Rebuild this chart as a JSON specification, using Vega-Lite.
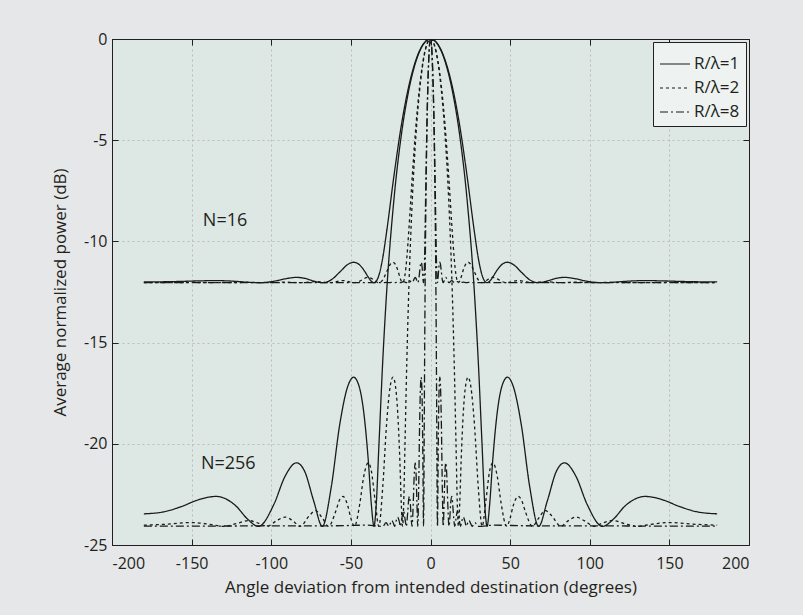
{
 "$schema": "https://vega.github.io/schema/vega-lite/v6.json",
 "width": 637, "height": 506,
 "autosize": {"type": "none"},
 "padding": {"left": 112, "top": 39, "right": 54, "bottom": 70},
 "background": "#e6e7e8",
 "config": {
  "view": {"fill": "#dde8e5", "stroke": "#231f20", "strokeWidth": 1},
  "font": "Open Sans",
  "axis": {"labelFont": "Open Sans", "labelFontSize": 16, "labelColor": "#231f20", "titleFont": "Open Sans", "titleFontSize": 17, "titleFontWeight": "normal", "titleColor": "#231f20", "tickColor": "#231f20", "tickSize": -6, "domainColor": "#231f20", "gridColor": "#b9bcbb", "gridDash": [2, 3], "gridWidth": 1, "labelExpr": "toString(datum.value)"},
  "legend": {"title": null, "orient": "top-right", "offset": 3, "padding": 6, "strokeColor": "#231f20", "fillColor": "#eef3f1", "labelFontSize": 17, "labelFont": "Open Sans", "labelColor": "#231f20", "symbolType": "stroke", "symbolSize": 900, "symbolStrokeWidth": 1.2, "rowPadding": -11, "labelOffset": 3}
 },
 "layer": [
  {
   "data": {"values": [
    {"r":"R/λ=1","a":-180,"s":-12.002,"b":-23.46},
    {"r":"R/λ=1","a":-168,"s":-11.995,"b":-23.37},
    {"r":"R/λ=1","a":-156.4,"s":-11.976,"b":-23.10},
    {"r":"R/λ=1","a":-145.5,"s":-11.951,"b":-22.76},
    {"r":"R/λ=1","a":-134.78,"s":-11.938,"b":-22.60},
    {"r":"R/λ=1","a":-122.19,"s":-11.974,"b":-23.07},
    {"r":"R/λ=1","a":-115,"s":-12.018,"b":-23.71},
    {"r":"R/λ=1","a":-108.07,"s":-12.041,"b":-24.08},
    {"r":"R/λ=1","a":-98.22,"s":-11.967,"b":-22.97},
    {"r":"R/λ=1","a":-91.48,"s":-11.852,"b":-21.63},
    {"r":"R/λ=1","a":-84.14,"s":-11.778,"b":-20.94},
    {"r":"R/λ=1","a":-79.08,"s":-11.823,"b":-21.35},
    {"r":"R/λ=1","a":-73.29,"s":-11.957,"b":-22.84},
    {"r":"R/λ=1","a":-67.93,"s":-12.041,"b":-24.08},
    {"r":"R/λ=1","a":-62.29,"s":-11.897,"b":-22.12},
    {"r":"R/λ=1","a":-57.04,"s":-11.520,"b":-19.07},
    {"r":"R/λ=1","a":-51.91,"s":-11.138,"b":-17.15},
    {"r":"R/λ=1","a":-48.29,"s":-11.029,"b":-16.71},
    {"r":"R/λ=1","a":-44.91,"s":-11.135,"b":-17.14},
    {"r":"R/λ=1","a":-41.97,"s":-11.403,"b":-18.41},
    {"r":"R/λ=1","a":-39.05,"s":-11.766,"b":-20.84},
    {"r":"R/λ=1","a":-37.12,"s":-11.971,"b":-23.02},
    {"r":"R/λ=1","a":-35.5,"s":-12.041,"b":-24.08},
    {"r":"R/λ=1","a":-34.25,"s":-11.986,"b":-23.23},
    {"r":"R/λ=1","a":-32.34,"s":-11.658,"b":-19.98},
    {"r":"R/λ=1","a":-29.98,"s":-10.808,"b":-15.90},
    {"r":"R/λ=1","a":-27.63,"s":-9.570,"b":-12.611},
    {"r":"R/λ=1","a":-22.95,"s":-6.761,"b":-7.919},
    {"r":"R/λ=1","a":-18.32,"s":-4.268,"b":-4.747},
    {"r":"R/λ=1","a":-13.71,"s":-2.356,"b":-2.556},
    {"r":"R/λ=1","a":-9.13,"s":-1.030,"b":-1.103},
    {"r":"R/λ=1","a":-4.56,"s":-0.254,"b":-0.270},
    {"r":"R/λ=1","a":0,"s":0,"b":0},
    {"r":"R/λ=1","a":4.56,"s":-0.254,"b":-0.270},
    {"r":"R/λ=1","a":9.13,"s":-1.030,"b":-1.103},
    {"r":"R/λ=1","a":13.71,"s":-2.356,"b":-2.556},
    {"r":"R/λ=1","a":18.32,"s":-4.268,"b":-4.747},
    {"r":"R/λ=1","a":22.95,"s":-6.761,"b":-7.919},
    {"r":"R/λ=1","a":27.63,"s":-9.570,"b":-12.611},
    {"r":"R/λ=1","a":29.98,"s":-10.808,"b":-15.90},
    {"r":"R/λ=1","a":32.34,"s":-11.658,"b":-19.98},
    {"r":"R/λ=1","a":34.25,"s":-11.986,"b":-23.23},
    {"r":"R/λ=1","a":35.5,"s":-12.041,"b":-24.08},
    {"r":"R/λ=1","a":37.12,"s":-11.971,"b":-23.02},
    {"r":"R/λ=1","a":39.05,"s":-11.766,"b":-20.84},
    {"r":"R/λ=1","a":41.97,"s":-11.403,"b":-18.41},
    {"r":"R/λ=1","a":44.91,"s":-11.135,"b":-17.14},
    {"r":"R/λ=1","a":48.29,"s":-11.029,"b":-16.71},
    {"r":"R/λ=1","a":51.91,"s":-11.138,"b":-17.15},
    {"r":"R/λ=1","a":57.04,"s":-11.520,"b":-19.07},
    {"r":"R/λ=1","a":62.29,"s":-11.897,"b":-22.12},
    {"r":"R/λ=1","a":67.93,"s":-12.041,"b":-24.08},
    {"r":"R/λ=1","a":73.29,"s":-11.957,"b":-22.84},
    {"r":"R/λ=1","a":79.08,"s":-11.823,"b":-21.35},
    {"r":"R/λ=1","a":84.14,"s":-11.778,"b":-20.94},
    {"r":"R/λ=1","a":91.48,"s":-11.852,"b":-21.63},
    {"r":"R/λ=1","a":98.22,"s":-11.967,"b":-22.97},
    {"r":"R/λ=1","a":108.07,"s":-12.041,"b":-24.08},
    {"r":"R/λ=1","a":115,"s":-12.018,"b":-23.71},
    {"r":"R/λ=1","a":122.19,"s":-11.974,"b":-23.07},
    {"r":"R/λ=1","a":134.78,"s":-11.938,"b":-22.60},
    {"r":"R/λ=1","a":145.5,"s":-11.951,"b":-22.76},
    {"r":"R/λ=1","a":156.4,"s":-11.976,"b":-23.10},
    {"r":"R/λ=1","a":168,"s":-11.995,"b":-23.37},
    {"r":"R/λ=1","a":180,"s":-12.002,"b":-23.46},

    {"r":"R/λ=2","a":-180,"s":-12.037,"b":-24.02},
    {"r":"R/λ=2","a":-165,"s":-12.035,"b":-23.97},
    {"r":"R/λ=2","a":-149.88,"s":-12.029,"b":-23.89},
    {"r":"R/λ=2","a":-138.46,"s":-12.035,"b":-23.98},
    {"r":"R/λ=2","a":-129.81,"s":-12.041,"b":-24.08},
    {"r":"R/λ=2","a":-121.25,"s":-12.032,"b":-23.93},
    {"r":"R/λ=2","a":-114.36,"s":-12.024,"b":-23.79},
    {"r":"R/λ=2","a":-107.75,"s":-12.032,"b":-23.93},
    {"r":"R/λ=2","a":-102.63,"s":-12.041,"b":-24.08},
    {"r":"R/λ=2","a":-96.84,"s":-12.025,"b":-23.81},
    {"r":"R/λ=2","a":-91.23,"s":-12.013,"b":-23.62},
    {"r":"R/λ=2","a":-86.37,"s":-12.025,"b":-23.81},
    {"r":"R/λ=2","a":-81.88,"s":-12.041,"b":-24.08},
    {"r":"R/λ=2","a":-76.15,"s":-12.009,"b":-23.56},
    {"r":"R/λ=2","a":-72.15,"s":-11.990,"b":-23.30},
    {"r":"R/λ=2","a":-67.70,"s":-12.017,"b":-23.70},
    {"r":"R/λ=2","a":-64.01,"s":-12.041,"b":-24.08},
    {"r":"R/λ=2","a":-59.65,"s":-11.995,"b":-23.37},
    {"r":"R/λ=2","a":-57.03,"s":-11.951,"b":-22.76},
    {"r":"R/λ=2","a":-54.97,"s":-11.938,"b":-22.60},
    {"r":"R/λ=2","a":-51.91,"s":-11.974,"b":-23.07},
    {"r":"R/λ=2","a":-49.89,"s":-12.018,"b":-23.71},
    {"r":"R/λ=2","a":-47.74,"s":-12.041,"b":-24.08},
    {"r":"R/λ=2","a":-44.42,"s":-11.967,"b":-22.97},
    {"r":"R/λ=2","a":-41.97,"s":-11.852,"b":-21.63},
    {"r":"R/λ=2","a":-39.15,"s":-11.778,"b":-20.94},
    {"r":"R/λ=2","a":-37.12,"s":-11.823,"b":-21.35},
    {"r":"R/λ=2","a":-34.73,"s":-11.957,"b":-22.84},
    {"r":"R/λ=2","a":-32.44,"s":-12.041,"b":-24.08},
    {"r":"R/λ=2","a":-29.98,"s":-11.897,"b":-22.12},
    {"r":"R/λ=2","a":-27.62,"s":-11.520,"b":-19.07},
    {"r":"R/λ=2","a":-25.28,"s":-11.138,"b":-17.15},
    {"r":"R/λ=2","a":-23.60,"s":-11.029,"b":-16.71},
    {"r":"R/λ=2","a":-22.02,"s":-11.135,"b":-17.14},
    {"r":"R/λ=2","a":-20.63,"s":-11.403,"b":-18.41},
    {"r":"R/λ=2","a":-19.24,"s":-11.766,"b":-20.84},
    {"r":"R/λ=2","a":-18.32,"s":-11.971,"b":-23.02},
    {"r":"R/λ=2","a":-17.53,"s":-12.041,"b":-24.08},
    {"r":"R/λ=2","a":-16.93,"s":-11.986,"b":-23.23},
    {"r":"R/λ=2","a":-16.01,"s":-11.658,"b":-19.98},
    {"r":"R/λ=2","a":-14.86,"s":-10.808,"b":-15.90},
    {"r":"R/λ=2","a":-13.71,"s":-9.570,"b":-12.611},
    {"r":"R/λ=2","a":-11.42,"s":-6.761,"b":-7.919},
    {"r":"R/λ=2","a":-9.13,"s":-4.268,"b":-4.747},
    {"r":"R/λ=2","a":-6.84,"s":-2.356,"b":-2.556},
    {"r":"R/λ=2","a":-4.56,"s":-1.030,"b":-1.103},
    {"r":"R/λ=2","a":-2.28,"s":-0.254,"b":-0.270},
    {"r":"R/λ=2","a":0,"s":0,"b":0},
    {"r":"R/λ=2","a":2.28,"s":-0.254,"b":-0.270},
    {"r":"R/λ=2","a":4.56,"s":-1.030,"b":-1.103},
    {"r":"R/λ=2","a":6.84,"s":-2.356,"b":-2.556},
    {"r":"R/λ=2","a":9.13,"s":-4.268,"b":-4.747},
    {"r":"R/λ=2","a":11.42,"s":-6.761,"b":-7.919},
    {"r":"R/λ=2","a":13.71,"s":-9.570,"b":-12.611},
    {"r":"R/λ=2","a":14.86,"s":-10.808,"b":-15.90},
    {"r":"R/λ=2","a":16.01,"s":-11.658,"b":-19.98},
    {"r":"R/λ=2","a":16.93,"s":-11.986,"b":-23.23},
    {"r":"R/λ=2","a":17.53,"s":-12.041,"b":-24.08},
    {"r":"R/λ=2","a":18.32,"s":-11.971,"b":-23.02},
    {"r":"R/λ=2","a":19.24,"s":-11.766,"b":-20.84},
    {"r":"R/λ=2","a":20.63,"s":-11.403,"b":-18.41},
    {"r":"R/λ=2","a":22.02,"s":-11.135,"b":-17.14},
    {"r":"R/λ=2","a":23.60,"s":-11.029,"b":-16.71},
    {"r":"R/λ=2","a":25.28,"s":-11.138,"b":-17.15},
    {"r":"R/λ=2","a":27.62,"s":-11.520,"b":-19.07},
    {"r":"R/λ=2","a":29.98,"s":-11.897,"b":-22.12},
    {"r":"R/λ=2","a":32.44,"s":-12.041,"b":-24.08},
    {"r":"R/λ=2","a":34.73,"s":-11.957,"b":-22.84},
    {"r":"R/λ=2","a":37.12,"s":-11.823,"b":-21.35},
    {"r":"R/λ=2","a":39.15,"s":-11.778,"b":-20.94},
    {"r":"R/λ=2","a":41.97,"s":-11.852,"b":-21.63},
    {"r":"R/λ=2","a":44.42,"s":-11.967,"b":-22.97},
    {"r":"R/λ=2","a":47.74,"s":-12.041,"b":-24.08},
    {"r":"R/λ=2","a":49.89,"s":-12.018,"b":-23.71},
    {"r":"R/λ=2","a":51.91,"s":-11.974,"b":-23.07},
    {"r":"R/λ=2","a":54.97,"s":-11.938,"b":-22.60},
    {"r":"R/λ=2","a":57.03,"s":-11.951,"b":-22.76},
    {"r":"R/λ=2","a":59.65,"s":-11.995,"b":-23.37},
    {"r":"R/λ=2","a":64.01,"s":-12.041,"b":-24.08},
    {"r":"R/λ=2","a":67.70,"s":-12.017,"b":-23.70},
    {"r":"R/λ=2","a":72.15,"s":-11.990,"b":-23.30},
    {"r":"R/λ=2","a":76.15,"s":-12.009,"b":-23.56},
    {"r":"R/λ=2","a":81.88,"s":-12.041,"b":-24.08},
    {"r":"R/λ=2","a":86.37,"s":-12.025,"b":-23.81},
    {"r":"R/λ=2","a":91.23,"s":-12.013,"b":-23.62},
    {"r":"R/λ=2","a":96.84,"s":-12.025,"b":-23.81},
    {"r":"R/λ=2","a":102.63,"s":-12.041,"b":-24.08},
    {"r":"R/λ=2","a":107.75,"s":-12.032,"b":-23.93},
    {"r":"R/λ=2","a":114.36,"s":-12.024,"b":-23.79},
    {"r":"R/λ=2","a":121.25,"s":-12.032,"b":-23.93},
    {"r":"R/λ=2","a":129.81,"s":-12.041,"b":-24.08},
    {"r":"R/λ=2","a":138.46,"s":-12.035,"b":-23.98},
    {"r":"R/λ=2","a":149.88,"s":-12.029,"b":-23.89},
    {"r":"R/λ=2","a":165,"s":-12.035,"b":-23.97},
    {"r":"R/λ=2","a":180,"s":-12.037,"b":-24.02},

    {"r":"R/λ=8","a":-180,"s":-12.041,"b":-24.07},
    {"r":"R/λ=8","a":-150,"s":-12.041,"b":-24.07},
    {"r":"R/λ=8","a":-120,"s":-12.041,"b":-24.06},
    {"r":"R/λ=8","a":-90,"s":-12.040,"b":-24.06},
    {"r":"R/λ=8","a":-60,"s":-12.040,"b":-24.05},
    {"r":"R/λ=8","a":-40,"s":-12.038,"b":-24.02},
    {"r":"R/λ=8","a":-29.86,"s":-12.041,"b":-24.08},
    {"r":"R/λ=8","a":-27.94,"s":-12.029,"b":-23.89},
    {"r":"R/λ=8","a":-27.04,"s":-12.035,"b":-23.98},
    {"r":"R/λ=8","a":-26.17,"s":-12.041,"b":-24.08},
    {"r":"R/λ=8","a":-25.17,"s":-12.032,"b":-23.93},
    {"r":"R/λ=8","a":-24.26,"s":-12.024,"b":-23.79},
    {"r":"R/λ=8","a":-23.30,"s":-12.032,"b":-23.93},
    {"r":"R/λ=8","a":-22.51,"s":-12.041,"b":-24.08},
    {"r":"R/λ=8","a":-21.56,"s":-12.025,"b":-23.81},
    {"r":"R/λ=8","a":-20.58,"s":-12.013,"b":-23.62},
    {"r":"R/λ=8","a":-19.70,"s":-12.025,"b":-23.81},
    {"r":"R/λ=8","a":-18.86,"s":-12.041,"b":-24.08},
    {"r":"R/λ=8","a":-17.74,"s":-12.009,"b":-23.56},
    {"r":"R/λ=8","a":-16.93,"s":-11.990,"b":-23.30},
    {"r":"R/λ=8","a":-16.01,"s":-12.017,"b":-23.70},
    {"r":"R/λ=8","a":-15.23,"s":-12.041,"b":-24.08},
    {"r":"R/λ=8","a":-14.29,"s":-11.995,"b":-23.37},
    {"r":"R/λ=8","a":-13.71,"s":-11.951,"b":-22.76},
    {"r":"R/λ=8","a":-13.25,"s":-11.938,"b":-22.60},
    {"r":"R/λ=8","a":-12.56,"s":-11.974,"b":-23.07},
    {"r":"R/λ=8","a":-12.11,"s":-12.018,"b":-23.71},
    {"r":"R/λ=8","a":-11.61,"s":-12.041,"b":-24.08},
    {"r":"R/λ=8","a":-10.85,"s":-11.967,"b":-22.97},
    {"r":"R/λ=8","a":-10.27,"s":-11.852,"b":-21.63},
    {"r":"R/λ=8","a":-9.60,"s":-11.778,"b":-20.94},
    {"r":"R/λ=8","a":-9.12,"s":-11.823,"b":-21.35},
    {"r":"R/λ=8","a":-8.55,"s":-11.957,"b":-22.84},
    {"r":"R/λ=8","a":-8.01,"s":-12.041,"b":-24.08},
    {"r":"R/λ=8","a":-7.41,"s":-11.897,"b":-22.12},
    {"r":"R/λ=8","a":-6.84,"s":-11.520,"b":-19.07},
    {"r":"R/λ=8","a":-6.27,"s":-11.138,"b":-17.15},
    {"r":"R/λ=8","a":-5.86,"s":-11.029,"b":-16.71},
    {"r":"R/λ=8","a":-5.47,"s":-11.135,"b":-17.14},
    {"r":"R/λ=8","a":-5.13,"s":-11.403,"b":-18.41},
    {"r":"R/λ=8","a":-4.79,"s":-11.766,"b":-20.84},
    {"r":"R/λ=8","a":-4.56,"s":-11.971,"b":-23.02},
    {"r":"R/λ=8","a":-4.37,"s":-12.041,"b":-24.08},
    {"r":"R/λ=8","a":-4.22,"s":-11.986,"b":-23.23},
    {"r":"R/λ=8","a":-3.99,"s":-11.658,"b":-19.98},
    {"r":"R/λ=8","a":-3.70,"s":-10.808,"b":-15.90},
    {"r":"R/λ=8","a":-3.42,"s":-9.570,"b":-12.611},
    {"r":"R/λ=8","a":-2.85,"s":-6.761,"b":-7.919},
    {"r":"R/λ=8","a":-2.28,"s":-4.268,"b":-4.747},
    {"r":"R/λ=8","a":-1.71,"s":-2.356,"b":-2.556},
    {"r":"R/λ=8","a":-1.14,"s":-1.030,"b":-1.103},
    {"r":"R/λ=8","a":-0.57,"s":-0.254,"b":-0.270},
    {"r":"R/λ=8","a":0,"s":0,"b":0},
    {"r":"R/λ=8","a":0.57,"s":-0.254,"b":-0.270},
    {"r":"R/λ=8","a":1.14,"s":-1.030,"b":-1.103},
    {"r":"R/λ=8","a":1.71,"s":-2.356,"b":-2.556},
    {"r":"R/λ=8","a":2.28,"s":-4.268,"b":-4.747},
    {"r":"R/λ=8","a":2.85,"s":-6.761,"b":-7.919},
    {"r":"R/λ=8","a":3.42,"s":-9.570,"b":-12.611},
    {"r":"R/λ=8","a":3.70,"s":-10.808,"b":-15.90},
    {"r":"R/λ=8","a":3.99,"s":-11.658,"b":-19.98},
    {"r":"R/λ=8","a":4.22,"s":-11.986,"b":-23.23},
    {"r":"R/λ=8","a":4.37,"s":-12.041,"b":-24.08},
    {"r":"R/λ=8","a":4.56,"s":-11.971,"b":-23.02},
    {"r":"R/λ=8","a":4.79,"s":-11.766,"b":-20.84},
    {"r":"R/λ=8","a":5.13,"s":-11.403,"b":-18.41},
    {"r":"R/λ=8","a":5.47,"s":-11.135,"b":-17.14},
    {"r":"R/λ=8","a":5.86,"s":-11.029,"b":-16.71},
    {"r":"R/λ=8","a":6.27,"s":-11.138,"b":-17.15},
    {"r":"R/λ=8","a":6.84,"s":-11.520,"b":-19.07},
    {"r":"R/λ=8","a":7.41,"s":-11.897,"b":-22.12},
    {"r":"R/λ=8","a":8.01,"s":-12.041,"b":-24.08},
    {"r":"R/λ=8","a":8.55,"s":-11.957,"b":-22.84},
    {"r":"R/λ=8","a":9.12,"s":-11.823,"b":-21.35},
    {"r":"R/λ=8","a":9.60,"s":-11.778,"b":-20.94},
    {"r":"R/λ=8","a":10.27,"s":-11.852,"b":-21.63},
    {"r":"R/λ=8","a":10.85,"s":-11.967,"b":-22.97},
    {"r":"R/λ=8","a":11.61,"s":-12.041,"b":-24.08},
    {"r":"R/λ=8","a":12.11,"s":-12.018,"b":-23.71},
    {"r":"R/λ=8","a":12.56,"s":-11.974,"b":-23.07},
    {"r":"R/λ=8","a":13.25,"s":-11.938,"b":-22.60},
    {"r":"R/λ=8","a":13.71,"s":-11.951,"b":-22.76},
    {"r":"R/λ=8","a":14.29,"s":-11.995,"b":-23.37},
    {"r":"R/λ=8","a":15.23,"s":-12.041,"b":-24.08},
    {"r":"R/λ=8","a":16.01,"s":-12.017,"b":-23.70},
    {"r":"R/λ=8","a":16.93,"s":-11.990,"b":-23.30},
    {"r":"R/λ=8","a":17.74,"s":-12.009,"b":-23.56},
    {"r":"R/λ=8","a":18.86,"s":-12.041,"b":-24.08},
    {"r":"R/λ=8","a":19.70,"s":-12.025,"b":-23.81},
    {"r":"R/λ=8","a":20.58,"s":-12.013,"b":-23.62},
    {"r":"R/λ=8","a":21.56,"s":-12.025,"b":-23.81},
    {"r":"R/λ=8","a":22.51,"s":-12.041,"b":-24.08},
    {"r":"R/λ=8","a":23.30,"s":-12.032,"b":-23.93},
    {"r":"R/λ=8","a":24.26,"s":-12.024,"b":-23.79},
    {"r":"R/λ=8","a":25.17,"s":-12.032,"b":-23.93},
    {"r":"R/λ=8","a":26.17,"s":-12.041,"b":-24.08},
    {"r":"R/λ=8","a":27.04,"s":-12.035,"b":-23.98},
    {"r":"R/λ=8","a":27.94,"s":-12.029,"b":-23.89},
    {"r":"R/λ=8","a":29.86,"s":-12.041,"b":-24.08},
    {"r":"R/λ=8","a":40,"s":-12.038,"b":-24.02},
    {"r":"R/λ=8","a":60,"s":-12.040,"b":-24.05},
    {"r":"R/λ=8","a":90,"s":-12.040,"b":-24.06},
    {"r":"R/λ=8","a":120,"s":-12.041,"b":-24.06},
    {"r":"R/λ=8","a":150,"s":-12.041,"b":-24.07},
    {"r":"R/λ=8","a":180,"s":-12.041,"b":-24.07}
   ]},
   "transform": [{"fold": ["s", "b"], "as": ["n", "p"]}],
   "mark": {"type": "line", "color": "#1a1a1a", "strokeWidth": 1.3, "interpolate": "monotone", "clip": true},
   "encoding": {
    "x": {"field": "a", "type": "quantitative", "scale": {"domain": [-200, 200], "nice": false, "zero": false},
          "axis": {"values": [-200, -150, -100, -50, 0, 50, 100, 150, 200], "title": "Angle deviation from intended destination (degrees)", "labelPadding": 16, "titlePadding": 8, "grid": true}},
    "y": {"field": "p", "type": "quantitative", "scale": {"domain": [-25, 0], "nice": false, "zero": false},
          "axis": {"values": [-25, -20, -15, -10, -5, 0], "title": "Average normalized power (dB)", "labelPadding": 11, "titlePadding": 14, "grid": true}},
    "detail": {"field": "n", "type": "nominal"},
    "strokeDash": {"field": "r", "type": "nominal", "scale": {"domain": ["R/λ=1", "R/λ=2", "R/λ=8"], "range": [[1, 0], [3, 3], [8, 3, 2, 3]]}}
   }
  },
  {
   "data": {"values": [{"x": -129, "y": -9.0, "t": "N=16"}, {"x": -127, "y": -21.0, "t": "N=256"}]},
   "mark": {"type": "text", "fontSize": 18, "color": "#231f20", "font": "Open Sans"},
   "encoding": {
    "x": {"field": "x", "type": "quantitative", "scale": {"domain": [-200, 200], "nice": false, "zero": false},
          "axis": {"orient": "top", "values": [-200, -150, -100, -50, 0, 50, 100, 150, 200], "labels": false, "grid": false, "title": null, "domain": true}},
    "y": {"field": "y", "type": "quantitative", "scale": {"domain": [-25, 0], "nice": false, "zero": false},
          "axis": {"orient": "right", "values": [-25, -20, -15, -10, -5, 0], "labels": false, "grid": false, "title": null, "domain": true}},
    "text": {"field": "t"}
   }
  }
 ],
 "resolve": {"axis": {"x": "independent", "y": "independent"}}
}
